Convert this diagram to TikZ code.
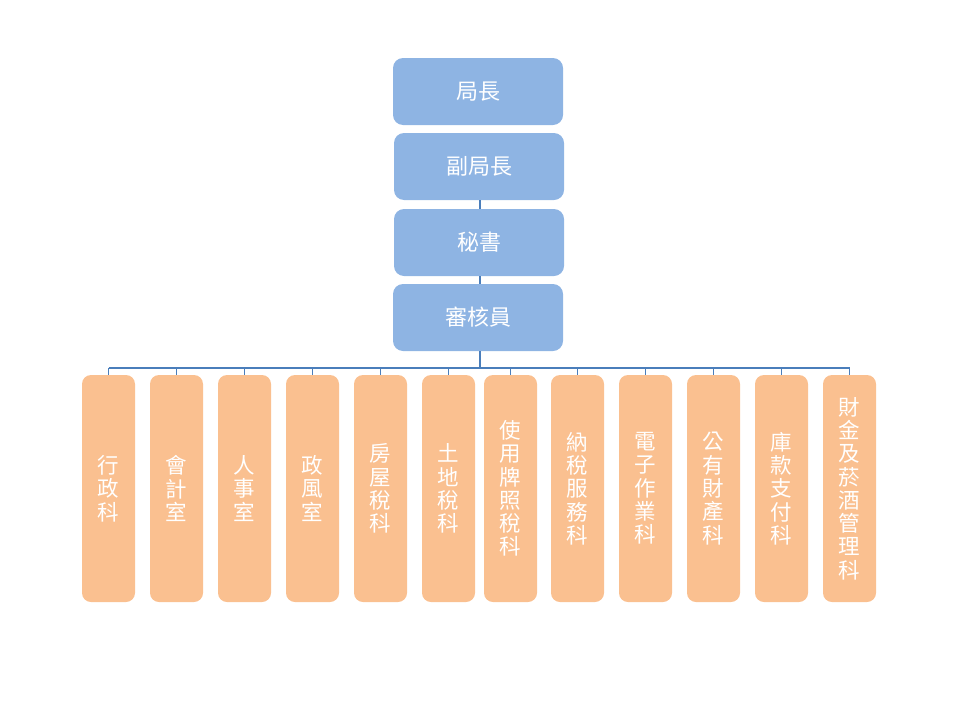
\documentclass[tikz,border=0pt]{standalone}
\usepackage{fontspec}
\newfontfamily\cjk{Noto Sans CJK TC}
\definecolor{topblue}{HTML}{8EB4E3}
\definecolor{unitorange}{HTML}{FAC090}
\definecolor{linkblue}{HTML}{4A7EBB}
\begin{document}
\begin{tikzpicture}[x=1pt,y=-1pt,
  headbox/.style={rectangle,rounded corners=10pt,fill=topblue,draw=none,
    minimum width=170pt,minimum height=67pt,inner sep=0pt,text=white,
    font=\cjk\fontsize{22}{24}\selectfont},
  unitbox/.style={rectangle,rounded corners=9pt,fill=unitorange,draw=none,
    minimum width=53pt,minimum height=227pt,inner sep=0pt,text=white,
    align=center,font=\cjk\fontsize{21.5}{23.3}\selectfont},
  link/.style={draw=linkblue,line width=1.1pt}]
\useasboundingbox (0,0) rectangle (960,720);
\node[headbox] (a) at (478,91.5) {局長};
\node[headbox] (b) at (479,166.5) {副局長};
\node[headbox] (c) at (479,242.5) {秘書};
\node[headbox] (d) at (478,317.5) {審核員};
\coordinate (bus) at (480,368);
\node[unitbox] (k1) at (108.5,488.5) {行\\政\\科};
\node[unitbox] (k2) at (176.5,488.5) {會\\計\\室};
\node[unitbox] (k3) at (244.5,488.5) {人\\事\\室};
\node[unitbox] (k4) at (312.5,488.5) {政\\風\\室};
\node[unitbox] (k5) at (380.5,488.5) {房\\屋\\稅\\科};
\node[unitbox] (k6) at (448.5,488.5) {土\\地\\稅\\科};
\node[unitbox] (k7) at (510.5,488.5) {使\\用\\牌\\照\\稅\\科};
\node[unitbox] (k8) at (577.5,488.5) {納\\稅\\服\\務\\科};
\node[unitbox] (k9) at (645.5,488.5) {電\\子\\作\\業\\科};
\node[unitbox] (k10) at (713.5,488.5) {公\\有\\財\\產\\科};
\node[unitbox] (k11) at (781.5,488.5) {庫\\款\\支\\付\\科};
\node[unitbox] (k12) at (849.5,488.5) {財\\金\\及\\菸\\酒\\管\\理\\科};
\draw[link] ([xshift=1pt]b.south) -- ([xshift=1pt]c.north);
\draw[link] ([xshift=1pt]c.south) -- ([xshift=2pt]d.north);
\draw[link] ([xshift=2pt]d.south) -- (bus);
\draw[link] (k1.north |- bus) -- (k12.north |- bus);
\foreach \i in {1,...,12}{
  \draw[link] (k\i.north |- bus) -- (k\i.north);
}
\end{tikzpicture}
\end{document}
